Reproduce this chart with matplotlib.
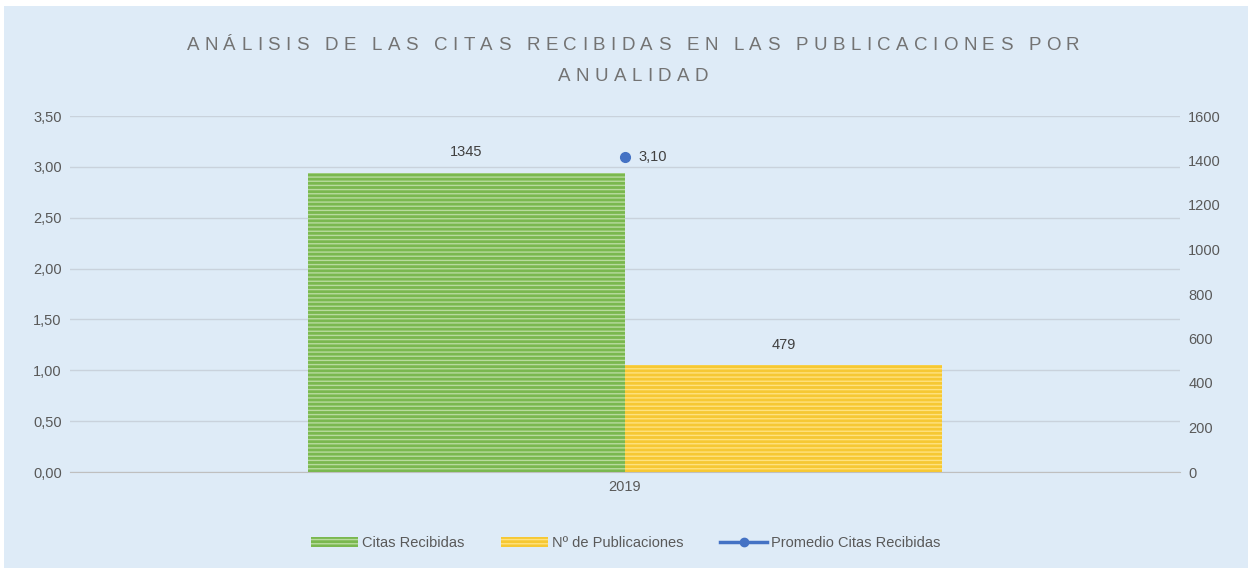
import numpy as np
import matplotlib.pyplot as plt
from matplotlib.patches import Rectangle, Patch
from matplotlib.lines import Line2D

# data
years = ['2019']
citas = [1345]
publicaciones = [479]
promedio = [3.10]

title_lines = ['ANÁLISIS DE LAS CITAS RECIBIDAS EN LAS PUBLICACIONES POR', 'ANUALIDAD']

bg = '#DEEBF7'
txt = '#595959'
plt.rcParams['font.family'] = ['Liberation Sans', 'DejaVu Sans']

fig = plt.figure(figsize=(12.52, 5.72), dpi=100, facecolor='white')
fig.patches.append(Rectangle((4 / 1252, 4 / 572), 1244 / 1252, 562 / 572,
                             transform=fig.transFigure, facecolor=bg,
                             edgecolor='none', zorder=-10))

ax1 = fig.add_axes([70 / 1252, 1 - 472 / 572, 1110 / 1252, 356 / 572])
ax1.set_facecolor('none')
ax1.set_ylim(0, 3.5)
ax1.set_yticks(np.arange(0, 3.51, 0.5))
ax1.set_yticklabels([f'{v:.2f}'.replace('.', ',') for v in np.arange(0, 3.51, 0.5)])
ax1.grid(axis='y', color='#C9D2DC', linewidth=1)
ax1.set_xlim(-0.5, 0.5)
ax1.set_xticks(range(len(years)))
ax1.set_xticklabels(years)
ax1.tick_params(length=0, colors=txt, labelsize=10.5, pad=6)
for s in ['top', 'left', 'right']:
    ax1.spines[s].set_visible(False)
ax1.spines['bottom'].set_color('#BFBFBF')

# bars on right axis
ax2 = ax1.twinx()
ax2.set_zorder(1)
ax2.set_ylim(0, 1600)
ax2.set_yticks(np.arange(0, 1601, 200))
ax2.tick_params(length=0, colors=txt, labelsize=10.5, pad=6)
for s in ax2.spines.values():
    s.set_visible(False)

x = np.arange(len(years))
w = 0.286
plt.rcParams['hatch.linewidth'] = 1.0
b1 = ax2.bar(x - w / 2, citas, w, color='#7AB84F', edgecolor='#B8DB9E',
             hatch='----', linewidth=0)
b2 = ax2.bar(x + w / 2, publicaciones, w, color='#F6C833', edgecolor='#FFE27F',
             hatch='----', linewidth=0)
for bars, vals in [(b1, citas), (b2, publicaciones)]:
    for r, v in zip(bars, vals):
        ax2.annotate(str(v), (r.get_x() + r.get_width() / 2, v), xytext=(0, 10),
                     textcoords='offset points', ha='center', va='bottom',
                     fontsize=10.5, color='#404040')

# promedio on left scale, drawn on top
ax3 = ax1.twinx()
ax3.set_zorder(2)
ax3.set_ylim(ax1.get_ylim())
ax3.axis('off')
ax3.plot(x, promedio, color='#4472C4', marker='o', markersize=7, linewidth=2)
for xi, v in zip(x, promedio):
    ax3.annotate(f'{v:.2f}'.replace('.', ','), (xi, v), xytext=(10, 0),
                 textcoords='offset points', ha='left', va='center',
                 fontsize=10.5, color='#404040')

# letter-spaced title, one character at a time
renderer = fig.canvas.get_renderer()
lines = []
for line, ypix in zip(title_lines, [45, 76]):
    chars = []
    for ch in line:
        t = fig.text(0, 1 - ypix / 572, ch, ha='left', va='center', fontsize=13.5,
                     color='#737373')
        cw = t.get_window_extent(renderer).width if ch != ' ' else 5
        chars.append((t, cw))
    lines.append(chars)
first = lines[0]
track = (893 - sum(cw for _, cw in first)) / (len(first) - 1)
for chars in lines:
    total = sum(cw for _, cw in chars) + track * (len(chars) - 1)
    xpos = 633 - total / 2
    for t, cw in chars:
        t.set_x(xpos / 1252)
        xpos += cw + track

handles = [Patch(facecolor='#7AB84F', edgecolor='#B8DB9E', hatch='----', linewidth=0),
           Patch(facecolor='#F6C833', edgecolor='#FFE27F', hatch='----', linewidth=0),
           Line2D([], [], color='#4472C4', marker='o', linewidth=2.5, markersize=6)]
labels = ['Citas Recibidas', 'Nº de Publicaciones', 'Promedio Citas Recibidas']
fig.legend(handles, labels, loc='center', bbox_to_anchor=(0.5, 1 - 543 / 572),
           ncol=3, frameon=False, fontsize=10.5, labelcolor=txt,
           handlelength=3.2, handletextpad=0.3, columnspacing=2.5)

fig.savefig('out.png', dpi=100, facecolor='white')
